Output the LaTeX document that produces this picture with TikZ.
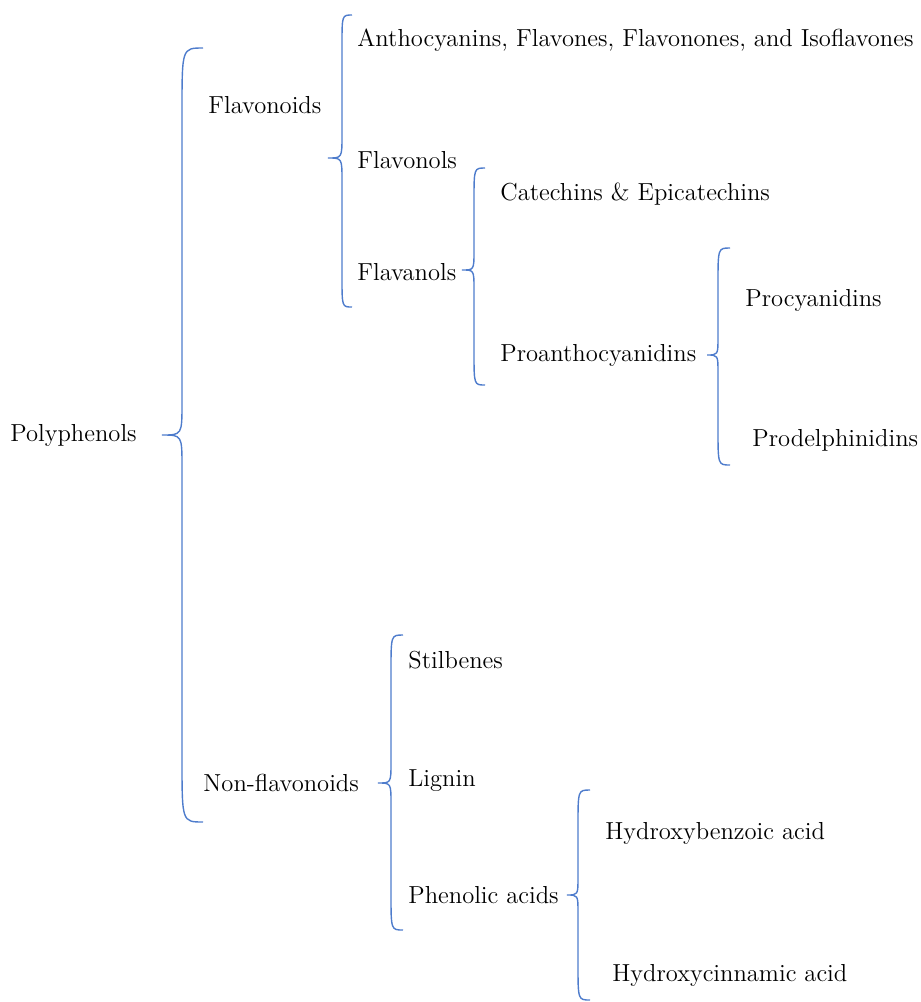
\documentclass[tikz,border=0pt]{standalone}
\usepackage{xcolor}
\usetikzlibrary{positioning}

\definecolor{braceblue}{RGB}{78,124,204}

\tikzset{
  brace/.style={draw=braceblue, line width=0.7pt},
  term/.style={anchor=west, inner sep=0pt, font=\fontsize{12.3}{14}\selectfont}
}

% #1 tip x, #2 line x, #3 end x, #4 top y, #5 tip y, #6 bottom y
\newcommand{\wbrace}[6]{%
  \draw[brace] (#3,#4) .. controls (#2,#4) .. (#2,#4+3*#3-3*#2)
    -- (#2,#5-1.6*#2+1.6*#1) .. controls (#2,#5) .. (#1,#5)
    .. controls (#2,#5) .. (#2,#5+1.6*#2-1.6*#1)
    -- (#2,#6-3*#3+3*#2) .. controls (#2,#6) .. (#3,#6);}

\begin{document}
\begin{tikzpicture}[x=0.5pt,y=-0.5pt]
                \path (0,0) rectangle (921,1002);

                \node[term] (polyphenols) at (10,435) {Polyphenols};
                \node[term] (flavonoids) at (208,105) {Flavonoids};
                \node[term] (nonflav) at (203,783) {Non-flavonoids};

                \node[term] (antho) at (357,40) {Anthocyanins, Flavones, Flavonones, and Isoflavones};
                \node[term] (flavonols) at (357,160) {Flavonols};
                \node[term] (flavanols) at (357,272) {Flavanols};

                \node[term] (catechins) at (500,194) {Catechins \& Epicatechins};
                \node[term] (proantho) at (500,355) {Proanthocyanidins};
                \node[term] (procyan) at (745,300) {Procyanidins};
                \node[term] (prodelph) at (752,440) {Prodelphinidins};

                \node[term] (stilbenes) at (408,660) {Stilbenes};
                \node[term] (lignin) at (408,781) {Lignin};
                \node[term] (phenolic) at (408,895) {Phenolic acids};
                \node[term] (hbenz) at (605,833) {Hydroxybenzoic acid};
                \node[term] (hcinn) at (612,975) {Hydroxycinnamic acid};

                % braces
                \wbrace{162}{182}{203}{48}{435}{822}
                \wbrace{328}{342}{352}{15}{158}{307}
                \wbrace{462}{474}{485}{168}{270}{385}
                \wbrace{707}{718}{730}{248}{355}{465}
                \wbrace{378}{391}{403}{635}{783}{930}
                \wbrace{567}{578}{590}{790}{895}{1000}

\end{tikzpicture}
\end{document}
